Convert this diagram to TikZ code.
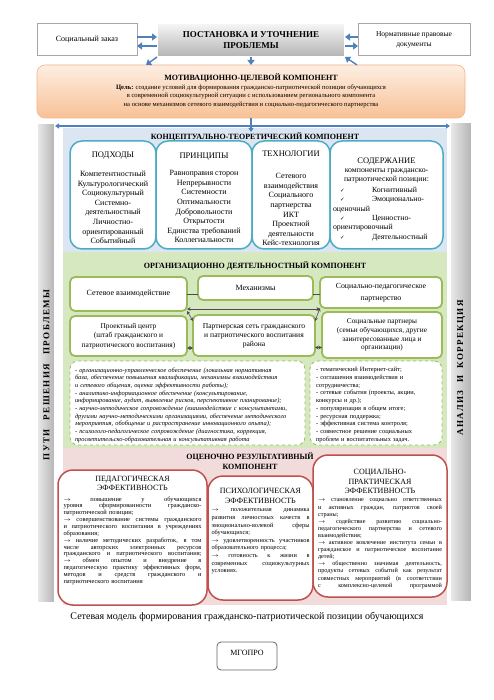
\documentclass[tikz,border=0pt]{standalone}
\usepackage{fontspec}
\setmainfont{Liberation Serif}
\newfontfamily\djv{DejaVu Sans}
\usetikzlibrary{arrows.meta}
\newcommand\fs[2]{\fontsize{#1}{#2}\selectfont}
\newcommand\jl[2]{\leavevmode\hbox to #1{\spaceskip=.25em plus 1fil\relax #2}}
\newcommand\ra{$\rightarrow$}
\definecolor{arrblue}{HTML}{4F81BD}
\definecolor{concbg}{HTML}{DCE6F2}
\definecolor{cyanb}{HTML}{4BACC6}
\definecolor{orgbg}{HTML}{D5E8C0}
\definecolor{greenb}{HTML}{9BBB59}
\definecolor{evalbg}{HTML}{F2DCDB}
\definecolor{redb}{HTML}{C0504D}
\definecolor{motivtop}{HTML}{FDEEE2}
\definecolor{motivbot}{HTML}{F8C196}
\definecolor{motivdraw}{HTML}{F2B58A}
\begin{document}
\begin{tikzpicture}[x=1pt,y=-1pt,
  every node/.style={inner sep=0pt, outer sep=0pt},
  arr/.style={draw=arrblue, line width=1.8pt, -{Triangle[length=5pt,width=7pt]}},
  barr/.style={draw=arrblue, line width=1.2pt},
  darr/.style={draw=black!70, line width=0.6pt, {Stealth[length=3.5pt,width=3.5pt]}-{Stealth[length=3.5pt,width=3.5pt]}},
  topbox/.style={draw=black!35, line width=1pt, fill=white, align=center},
  probbox/.style={draw=black!75, line width=0.7pt, double=white, double distance=1.2pt, top color=black!3, bottom color=black!30, align=center},
  motivbox/.style={draw=motivdraw, line width=0.6pt, rounded corners=8pt, top color=motivtop, bottom color=motivbot, anchor=north west},
  sidebar/.style={draw=black!70, line width=0.6pt, double=white, double distance=1.2pt, left color=black!8, right color=black!30, anchor=north west},
  bg/.style={anchor=north west, inner sep=0pt},
  cbox/.style={draw=cyanb, line width=1.5pt, rounded corners=12pt, fill=white, anchor=north west},
  gbox/.style={draw=greenb, line width=1.8pt, rounded corners=5pt, fill=white, anchor=north west, align=center},
  dbox/.style={draw=greenb, dashed, line width=0.8pt, rounded corners=8pt, fill=white, anchor=north west},
  rbox/.style={draw=redb, line width=1.5pt, rounded corners=15pt, fill=white, anchor=north west},
  comptitle/.style={font=\fs{8}{9.5}\bfseries, align=center},
  chead/.style={font=\fs{8.5}{10}},
  clist/.style={font=\fs{8}{9.6}, align=center, anchor=north},
  etitle/.style={font=\fs{8}{9}, align=center, anchor=north},
]
\useasboundingbox (0,0) rectangle (494,700);
\fill[white] (0,0) rectangle (494,700);

% ---------- top row
\node[topbox, minimum width=100, minimum height=32, font=\fs{8}{9}] (zakaz) at (87,40) {Социальный заказ};
\node[probbox, minimum width=188, minimum height=34, font=\fs{9}{11.5}\bfseries] (prob) at (251,40) {ПОСТАНОВКА И УТОЧНЕНИЕ\\ПРОБЛЕМЫ};
\node[topbox, minimum width=112, minimum height=32, font=\fs{7.5}{10}] (norm) at (414,40) {Нормативные правовые\\документы};

\draw[arr] ([yshift=3]zakaz.east) -- ([yshift=3]zakaz.east -| prob.west);
\draw[arr] ([yshift=-6]prob.west) -- ([yshift=-6]prob.west -| zakaz.east);
\draw[arr] ([yshift=3]norm.west) -- ([yshift=3]norm.west -| prob.east);
\draw[arr] ([yshift=-6]prob.east) -- ([yshift=-6]prob.east -| norm.west);

% ---------- motivation
\node[motivbox, minimum width=428, minimum height=53] (motiv) at (37,65) {};
\node[font=\fs{8}{9}\bfseries] (motivT) at (251,78) {МОТИВАЦИОННО-ЦЕЛЕВОЙ КОМПОНЕНТ};
\node[font=\fs{6.6}{8.7}, align=center, anchor=north] (motivB) at (251,84.5)
 {\textbf{Цель:} создание условий для формирования гражданско-патриотической позиции обучающихся\\
  в современной социокультурной ситуации с использованием регионального компонента\\
  на основе механизмов сетевого взаимодействия и социально-педагогического партнерства};

\coordinate (mL) at (146,65);
\coordinate (mR) at (357,65);
\draw[arr, line width=1.4pt] (prob.south) -- (prob.south |- motiv.north);
\draw[arr, line width=1.4pt] (prob.south west) -- (mL);
\draw[arr, line width=1.4pt] (mR) -- (prob.south east);

% ---------- side bars
\node[sidebar, minimum width=18, minimum height=480] (leftbar) at (37,123) {};
\node[sidebar, minimum width=22, minimum height=480] (rightbar) at (450,122) {};
\node[rotate=90, font=\fs{9}{10}\bfseries] (lefttxt) at (46.5,375) {\addfontfeature{LetterSpace=15}ПУТИ\hspace{6pt} РЕШЕНИЯ\hspace{6pt} ПРОБЛЕМЫ};
\node[rotate=90, font=\fs{9}{10}\bfseries] (righttxt) at (461,368) {\addfontfeature{LetterSpace=15}АНАЛИЗ\hspace{4pt} И\hspace{4pt} КОРРЕКЦИЯ};

% ---------- backgrounds
\node[bg, fill=concbg, minimum width=384, minimum height=124] (concbg) at (63,128) {};
\node[bg, fill=orgbg, minimum width=384, minimum height=196] (orgbg) at (63,252) {};
\node[bg, fill=evalbg, minimum width=384, minimum height=157] (evalbg) at (63,448) {};

% blue connectors under motivation
\draw[barr, {Triangle[length=4pt,width=5pt]}-{Triangle[length=4pt,width=5pt]}] ([yshift=-3]leftbar.north east) -- ([yshift=-3]leftbar.north east -| rightbar.west);
\draw[barr, -{Triangle[length=4pt,width=5pt]}] (motiv.south) -- ([yshift=-4]motiv.south |- concbg.north);

% ---------- conceptual component
\node[comptitle] (concT) at (255,137) {КОНЦЕПТУАЛЬНО-ТЕОРЕТИЧЕСКИЙ КОМПОНЕНТ};
\node[cbox, minimum width=86, minimum height=108] (podh) at (70,141) {};
\node[cbox, minimum width=96, minimum height=108] (princ) at (156,141) {};
\node[cbox, minimum width=78, minimum height=108] (tech) at (252,141) {};
\node[cbox, minimum width=113, minimum height=108] (sod) at (330,141) {};

\node[chead] (podhH) at (podh.center |- 0,156) {ПОДХОДЫ};
\node[clist] (podhL) at (podh.center |- 0,171) {Компетентностный\\Культурологический\\Социокультурный\\Системно-\\деятельностный\\Личностно-\\ориентированный\\Событийный};
\node[chead] (princH) at (princ.center |- 0,157) {ПРИНЦИПЫ};
\node[clist] (princL) at (princ.center |- 0,170.5) {Равноправия сторон\\Непрерывности\\Системности\\Оптимальности\\Добровольности\\Открытости\\Единства требований\\Коллегиальности};
\node[chead] (techH) at (tech.center |- 0,154) {ТЕХНОЛОГИИ};
\node[clist] (techL) at (tech.center |- 0,173.5) {Сетевого\\взаимодействия\\Социального\\партнерства\\ИКТ\\Проектной\\деятельности\\Кейс-технология};
\node[chead] (sodH) at (sod.center |- 0,162) {СОДЕРЖАНИЕ};
\node[clist, font=\fs{7.8}{9.3}] (sodA) at (sod.center |- 0,168.5) {компоненты гражданско-\\патриотической позиции:};
\node[font=\fs{7.8}{9.3}, align=left, text width=104, anchor=north west] (sodB) at (333,187.2)
 {\makebox[39pt][l]{\hspace*{7pt}{\djv\fs{5.5}{9.3}✓}}Когнитивный\\
  \makebox[39pt][l]{\hspace*{7pt}{\djv\fs{5.5}{9.3}✓}}Эмоционально-\\
  оценочный\\
  \makebox[39pt][l]{\hspace*{7pt}{\djv\fs{5.5}{9.3}✓}}Ценностно-\\
  ориентировочный\\
  \makebox[39pt][l]{\hspace*{7pt}{\djv\fs{5.5}{9.3}✓}}Деятельностный};

% ---------- organisational component
\node[comptitle] (orgT) at (255,266) {ОРГАНИЗАЦИОННО ДЕЯТЕЛЬНОСТНЫЙ КОМПОНЕНТ};
\node[gbox, minimum width=117, minimum height=34, font=\fs{8}{10}] (set) at (70,277) {Сетевое взаимодействие};
\node[gbox, minimum width=115, minimum height=24, font=\fs{8}{10}] (mech) at (198,276) {Механизмы};
\node[gbox, minimum width=122, minimum height=31, font=\fs{7.8}{11.5}] (socped) at (320,277) {Социально-педагогическое\\партнерство};
\node[gbox, minimum width=117, minimum height=40, font=\fs{7.4}{9.5}] (proj) at (70,316) {Проектный центр\\(штаб гражданского и\\патриотического воспитания)};
\node[gbox, minimum width=122, minimum height=41, font=\fs{7.6}{9}] (partn) at (193,315) {Партнерская сеть гражданского\\и патриотического воспитания\\района};
\node[gbox, minimum width=120, minimum height=46, font=\fs{7.3}{8.8}] (socpart) at (322,312) {Социальные партнеры\\(семьи обучающихся, другие\\заинтересованные лица и\\организации)};

\draw[black!70, line width=0.6pt] (set.east) -- (set.east -| mech.west);
\draw[black!70, line width=0.6pt] (set.east -| mech.east) -- (set.east -| socped.west);
\draw[darr] ([yshift=2]set.south east) -- ([yshift=2]set.south east -| socped.west);
\draw[darr] (set.south east) -- ([yshift=-6]partn.north west);
\draw[darr] (socped.south west) -- ([yshift=-6]partn.north east);
\draw[darr] ([yshift=-12]proj.east) -- ([yshift=-12]proj.east -| partn.west);
\draw[darr] ([yshift=-12]partn.east) -- ([yshift=-12]partn.east -| socpart.west);

\node[dbox, minimum width=235, minimum height=84] (dl) at (70,361) {};
\node[dbox, minimum width=132, minimum height=84] (dr) at (310,361) {};
\node[font=\fs{6.4}{7.7}\itshape, align=left, text width=230, anchor=north west] (dlT) at (75,367.5)
 {- организационно-управленческое обеспечение (локальная нормативная\\
  база, обеспечение повышения квалификации, механизмы взаимодействия\\
  и сетевого общения, оценка эффективности работы);\\
  - аналитико-информационное обеспечение (консультирование,\\
  информирование, аудит, выявление рисков, перспективное планирование);\\
  - научно-методическое сопровождение (взаимодействие с консультантами,\\
  другими научно-методическими организациями, обеспечение методического\\
  мероприятия, обобщение и распространение инновационного опыта);\\
  - психолого-педагогическое сопровождение (диагностика, коррекция,\\
  просветительско-образовательная и консультативная работа};
\node[font=\fs{6.4}{7.7}, align=left, text width=126, anchor=north west] (drT) at (316,367.5)
 {- тематический Интернет-сайт;\\
  - соглашения взаимодействия и\\
  сотрудничества;\\
  - сетевые события (проекты, акции,\\
  конкурсы и др.);\\
  - популяризация в общем итоге;\\
  - ресурсная поддержка;\\
  - эффективная система контроля;\\
  - совместное решение социальных\\
  проблем и воспитательных задач.};

% ---------- evaluative component
\node[comptitle] (evalT) at (250,461) {ОЦЕНОЧНО РЕЗУЛЬТАТИВНЫЙ\\КОМПОНЕНТ};
\node[rbox, minimum width=149, minimum height=135] (ped) at (58,470) {};
\node[rbox, minimum width=105, minimum height=124] (psy) at (208,476) {};
\node[rbox, minimum width=134, minimum height=142] (soc) at (313,455) {};

\node[etitle, font=\fs{8}{8.6}] (pedT) at (ped.center |- 0,476.5) {ПЕДАГОГИЧЕСКАЯ\\ЭФФЕКТИВНОСТЬ};
\node[font=\fs{6.4}{6.85}, align=left, text width=138, anchor=north] (pedB) at (ped.center |- 0,496.5)
 {\jl{138pt}{\ra{} повышение у обучающихся}\\
  \jl{138pt}{уровня сформированности гражданско-}\\
  патриотической позиции;\\
  \jl{138pt}{\ra{} совершенствование системы гражданского}\\
  \jl{138pt}{и патриотического воспитания в учреждениях}\\
  образования;\\
  \jl{138pt}{\ra{} наличие методических разработок, в том}\\
  \jl{138pt}{числе авторских электронных ресурсов}\\
  \jl{138pt}{гражданского и патриотического воспитания;}\\
  \jl{138pt}{\ra{} обмен опытом и внедрение в}\\
  \jl{138pt}{педагогическую практику эффективных форм,}\\
  \jl{138pt}{методов и средств гражданского и}\\
  патриотического воспитания};

\node[etitle, font=\fs{8}{10}] (psyT) at (psy.center |- 0,488.5) {ПСИХОЛОГИЧЕСКАЯ\\ЭФФЕКТИВНОСТЬ};
\node[font=\fs{6.3}{7.6}, align=left, text width=98, anchor=north] (psyB) at (psy.center |- 0,509)
 {\jl{98pt}{\ra{} положительная динамика}\\
  \jl{98pt}{развития личностных качеств в}\\
  \jl{98pt}{эмоционально-волевой сферы}\\
  обучающихся;\\
  \jl{98pt}{\ra{} удовлетворенность участников}\\
  образовательного процесса;\\
  \jl{98pt}{\ra{} готовность к жизни в}\\
  \jl{98pt}{современных социокультурных}\\
  условиях.};

\node[etitle, font=\fs{8}{9.5}] (socT) at (soc.center |- 0,469.5) {СОЦИАЛЬНО-\\ПРАКТИЧЕСКАЯ\\ЭФФЕКТИВНОСТЬ};
\node[font=\fs{6.2}{7.1}, align=left, text width=124, anchor=north] (socB) at (soc.center |- 0,499)
 {\jl{124pt}{\ra{} становление социально ответственных}\\
  \jl{124pt}{и активных граждан, патриотов своей}\\
  страны;\\
  \jl{124pt}{\ra{} содействие развитию социально-}\\
  \jl{124pt}{педагогического партнерства и сетевого}\\
  взаимодействия;\\
  \jl{124pt}{\ra{} активное вовлечение института семьи в}\\
  \jl{124pt}{гражданское и патриотическое воспитание}\\
  детей;\\
  \jl{124pt}{\ra{} общественно значимая деятельность,}\\
  \jl{124pt}{продукты сетевых событий как результат}\\
  \jl{124pt}{совместных мероприятий (в соответствии}\\
  \jl{124pt}{с комплексно-целевой программой}};

% ---------- caption and footer
\node[font=\fs{10}{12}] (caption) at (247,617) {Сетевая модель формирования гражданско-патриотической позиции обучающихся};
\node[draw=black!60, line width=0.8pt, rounded corners=4pt, minimum width=60, minimum height=28, anchor=north west] (mgopro) at (217,642) {};
\node[font=\fs{8}{9}] (mgoproT) at (247,652.5) {МГОПРО};
\end{tikzpicture}
\end{document}
